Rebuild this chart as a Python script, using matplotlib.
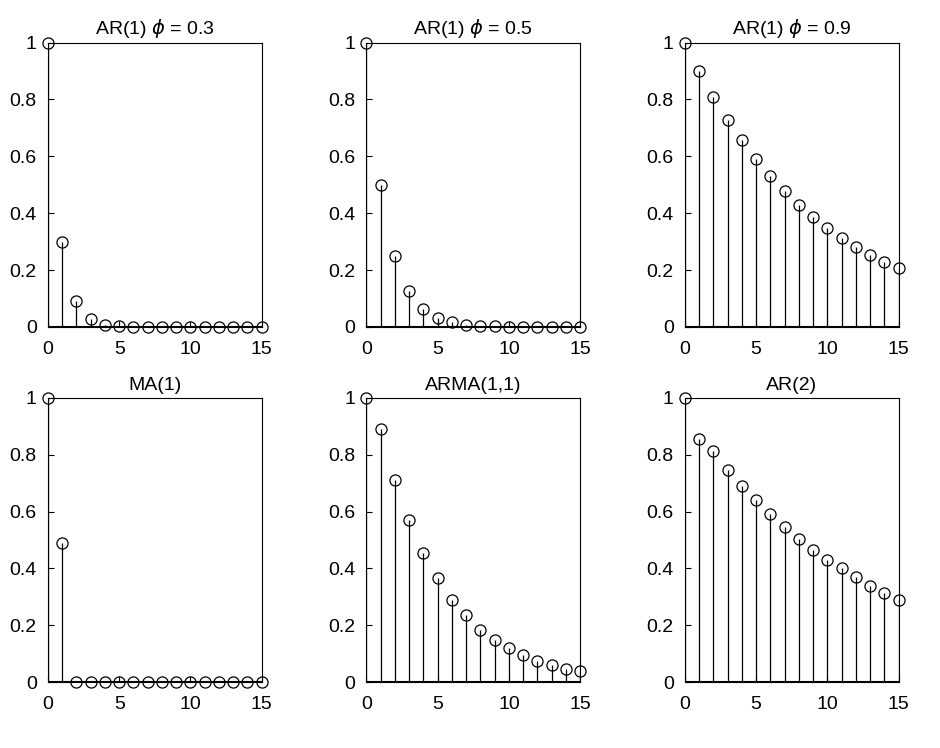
import matplotlib.pyplot as plt

lags = list(range(16))
titles = ["AR(1) $\\phi$ = 0.3", "AR(1) $\\phi$ = 0.5", "AR(1) $\\phi$ = 0.9",
          "MA(1)", "ARMA(1,1)", "AR(2)"]
ar03 = [1, 0.3, 0.09, 0.027, 0.008, 0.002, 0.001, 0, 0, 0, 0, 0, 0, 0, 0, 0]
ar05 = [1, 0.5, 0.25, 0.125, 0.062, 0.031, 0.016, 0.008, 0.004, 0.002, 0.001, 0, 0, 0, 0, 0]
ar09 = [1, 0.9, 0.81, 0.729, 0.656, 0.59, 0.531, 0.478, 0.43, 0.387, 0.349, 0.314, 0.282, 0.254, 0.229, 0.206]
ma1 = [1, 0.49, 0, 0, 0, 0, 0, 0, 0, 0, 0, 0, 0, 0, 0, 0]
arma11 = [1, 0.89, 0.71, 0.57, 0.455, 0.365, 0.29, 0.235, 0.185, 0.15, 0.12, 0.095, 0.075, 0.06, 0.048, 0.04]
ar2 = [1, 0.855, 0.815, 0.745, 0.69, 0.64, 0.59, 0.545, 0.505, 0.465, 0.43, 0.4, 0.37, 0.34, 0.315, 0.29]
series = [ar03, ar05, ar09, ma1, arma11, ar2]

plt.rcParams["font.family"] = "Liberation Sans"
plt.rcParams["font.size"] = 14

fig, axes = plt.subplots(2, 3, figsize=(9.4, 7.48), dpi=100)
fig.subplots_adjust(left=0.051, right=0.956, top=0.943, bottom=0.088, wspace=0.49, hspace=0.25)
for ax, y, t in zip(axes.flat, series, titles):
    markerline, stemlines, baseline = ax.stem(lags, y, linefmt="k-", markerfmt="ko", basefmt="k-")
    markerline.set_markerfacecolor("none")
    markerline.set_markersize(8)
    markerline.set_markeredgewidth(0.9)
    stemlines.set_linewidth(0.9)
    markerline.set_clip_on(False)
    ax.set_xlim(0, 15)
    ax.set_ylim(0, 1)
    ax.set_xticks([0, 5, 10, 15])
    ax.set_yticks([0, 0.2, 0.4, 0.6, 0.8, 1])
    ax.set_yticklabels(["0", "0.2", "0.4", "0.6", "0.8", "1"])
    ax.tick_params(direction="in", length=4)
    ax.tick_params(axis="x", pad=10)
    ax.tick_params(axis="y", pad=8)
    ax.set_title(t, fontsize=14, pad=6)

plt.savefig("out.png")
